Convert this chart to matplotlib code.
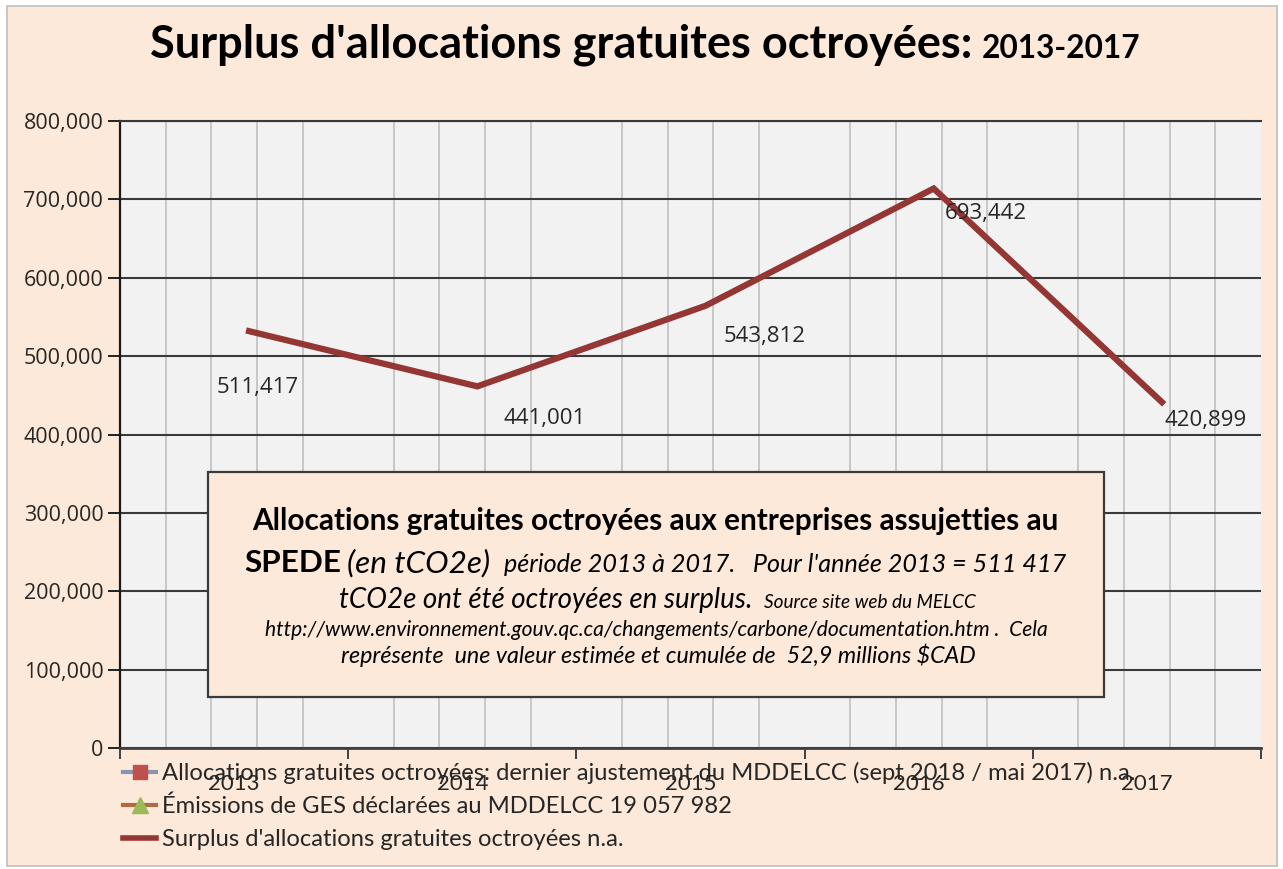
import matplotlib
matplotlib.use('Agg')
import matplotlib.pyplot as plt
from matplotlib.lines import Line2D
from matplotlib.patches import Rectangle
from matplotlib.transforms import offset_copy

# ---------------- data ----------------
years = ['2013', '2014', '2015', '2016', '2017']
surplus = [511417, 441001, 543812, 693442, 420899]
y_ticks = [0, 100000, 200000, 300000, 400000, 500000, 600000, 700000, 800000]
legend_labels = [
    "Allocations gratuites octroyées: dernier ajustement du MDDELCC (sept 2018 / mai 2017) n.a.",
    "Émissions de GES déclarées au MDDELCC 19 057 982",
    "Surplus d'allocations gratuites octroyées n.a.",
]
title_main = "Surplus d'allocations gratuites octroyées: "
title_years = "2013-2017"

# ---------------- styling ----------------
W, H = 1283, 869
PEACH = '#FDE9D9'
LINE_C = '#943634'
TXT = '#262626'
SANS = ['Lato', 'DejaVu Sans']
NUMF = ['Open Sans', 'DejaVu Sans']
# label offsets (pixels) relative to each point
lab_off = [(24, -40), (82, -16), (74, -15), (67, -9), (59, -2)]

fig = plt.figure(figsize=(W / 100, H / 100), dpi=100, facecolor='white')
renderer = fig.canvas.get_renderer()

# outer frame
fig.add_artist(Rectangle((7 / W, 1 - 866 / H), (1277 - 7) / W, (866 - 6) / H,
                         transform=fig.transFigure, facecolor=PEACH,
                         edgecolor='#BFBFBF', lw=1.2, zorder=-5))

ax = fig.add_axes([120 / W, 1 - 748 / H, (1261 - 120) / W, (748 - 121) / H])
ax.set_facecolor('#F2F2F2')
n = len(years)
xs = list(range(n))
ax.set_xlim(-0.5, n - 0.5)
ax.set_ylim(0, 800000)

# y axis
ax.set_yticks(y_ticks)
ax.set_yticklabels(['0' if v == 0 else f'{v:,}' for v in y_ticks],
                   fontsize=15.5, family=NUMF, color=TXT)
ax.tick_params(axis='y', direction='out', length=9, width=1.4, color='#202020', pad=3)
ax.yaxis.grid(True, color='#3a3a3a', lw=1.5)
ax.set_axisbelow(True)

# x axis : labels at centers, ticks at boundaries
ax.set_xticks(xs)
ax.set_xticklabels(years, fontsize=16, family=SANS, color=TXT)
ax.tick_params(axis='x', which='major', length=0, pad=19)
bounds = [i - 0.5 for i in range(n + 1)]
ax.set_xticks(bounds, minor=True)
ax.tick_params(axis='x', which='minor', direction='out', length=8, width=1.4, color='#404040')
grid_x = [-0.5 + 0.2 * k for k in range(5 * n + 1) if k % 5 != 0]
ax.vlines(grid_x, 0, 1, transform=ax.get_xaxis_transform(), color='#C4C4C4', lw=1.3, zorder=0.5)

ax.spines['right'].set_visible(False)
ax.spines['top'].set_color('#3a3a3a')
ax.spines['top'].set_linewidth(1.5)
ax.spines['left'].set_color('#1a1a1a')
ax.spines['left'].set_linewidth(1.6)
ax.spines['bottom'].set_color('#404040')
ax.spines['bottom'].set_linewidth(2.0)

# the series (drawn slightly displaced, as in the original rendering)
shift = offset_copy(ax.transData, fig=fig, x=15, y=16, units='dots')
ax.plot(xs, surplus, color=LINE_C, lw=4.5, transform=shift, clip_on=False,
        solid_joinstyle='miter', zorder=3)
for i, v in enumerate(surplus):
    ax.annotate(f'{v:,}', xy=(i, v), xytext=lab_off[i], textcoords='offset pixels',
                ha='center', va='center', fontsize=16, family=NUMF, color=TXT, zorder=4)


# ---------------- helpers for multi-style centred lines ----------------
def measure(s, **kw):
    t = fig.text(0, 0, s, **kw)
    w = t.get_window_extent(renderer).width
    t.remove()
    return w


def place_line(pieces, x0, x1, yc, zorder=6):
    """pieces: list of (text, base_size, kwargs, gap_px_before). Scaled to fit x0..x1."""
    target = x1 - x0
    widths = [measure(s, fontsize=sz, **kw) for s, sz, kw, g in pieces]
    gaps = [g for s, sz, kw, g in pieces]
    scale = (target - sum(gaps)) / sum(widths)
    x = x0
    for (s, sz, kw, g), w in zip(pieces, widths):
        x += g
        fig.text(x / W, 1 - yc / H, s, fontsize=sz * scale, ha='left',
                 va='baseline', zorder=zorder, **kw)
        x += w * scale


# ---------------- title ----------------
bold = dict(family=SANS, fontweight='bold', color='black')
place_line([(title_main, 30, bold, 0), (title_years, 21, bold, 0)], 150, 1140, 58)

# ---------------- annotation box ----------------
fig.add_artist(Rectangle((208 / W, 1 - 697 / H), (1104 - 208) / W, (697 - 472) / H,
                         transform=fig.transFigure, facecolor=PEACH,
                         edgecolor='#3a3a3a', lw=1.6, zorder=5))
bk = dict(family=SANS, fontweight='bold', color='black')
it = dict(family=SANS, style='italic', color='black')
place_line([("Allocations gratuites octroyées aux entreprises assujetties au", 20, bk, 0)],
           252, 1060, 530)
place_line([("SPEDE", 20, bk, 0), ("(en tCO2e)", 20, it, 6),
            ("période 2013 à 2017.   Pour l'année 2013 = 511 417", 16, it, 14)],
           244, 1067, 572)
place_line([("tCO2e ont été octroyées en surplus.", 16, it, 0),
            ("Source site web du MELCC", 11, it, 12)], 339, 976, 608)
place_line([("http://www.environnement.gouv.qc.ca/changements/carbone/documentation.htm .  Cela",
             12, it, 0)], 265, 1045, 636)
place_line([("représente  une valeur estimée et cumulée de  52,9 millions \\$CAD", 12, it, 0)],
           341, 972, 663)

# ---------------- legend ----------------
target_w = 1137 - 162
w10 = measure(legend_labels[0], fontsize=10, family=SANS)
leg_fs = 10 * target_w / w10
handles = [
    Line2D([], [], color='#8496B0', lw=3, marker='s', markersize=10,
           markerfacecolor='#C0504D', markeredgecolor='#C0504D'),
    Line2D([], [], color='#B06A45', lw=3, marker='^', markersize=11,
           markerfacecolor='#9BBB59', markeredgecolor='#9BBB59'),
    Line2D([], [], color=LINE_C, lw=4),
]
leg = fig.legend(handles, legend_labels, loc='upper left',
                 bbox_to_anchor=(123 / W, 1 - 762 / H), frameon=False,
                 prop=dict(family=SANS, size=leg_fs), handlelength=1.4,
                 handletextpad=0.25, labelspacing=0.5, borderpad=0, borderaxespad=0)
for t in leg.get_texts():
    t.set_color(TXT)
leg.set_zorder(7)

fig.savefig('out.png', dpi=100, facecolor='white')
